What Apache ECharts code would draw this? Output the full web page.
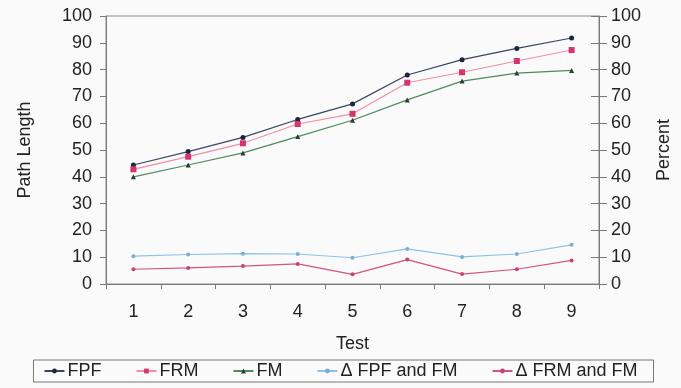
<!DOCTYPE html>
<html><head><meta charset="utf-8">
<script src="https://cdn.jsdelivr.net/npm/echarts@6/dist/echarts.min.js"></script>
<style>html,body{margin:0;padding:0;background:#fafafa}#c{width:681px;height:388px}</style>
</head><body><div id="c"></div>
<script>
var categories = ['1','2','3','4','5','6','7','8','9'];
var fpf = [44.4, 49.4, 54.7, 61.4, 67.2, 78.0, 83.7, 87.9, 91.8];
var frm = [42.8, 47.5, 52.5, 59.7, 63.5, 75.1, 79.0, 83.2, 87.3];
var fm = [40.0, 44.4, 48.9, 55.0, 61.1, 68.7, 75.7, 78.7, 79.7];
var dFpfFm = [10.4, 11.0, 11.3, 11.2, 9.8, 13.1, 10.1, 11.2, 14.6];
var dFrmFm = [5.5, 6.0, 6.7, 7.5, 3.6, 9.1, 3.7, 5.5, 8.8];
var yTicks = [0,10,20,30,40,50,60,70,80,90,100];

var chart = echarts.init(document.getElementById('c'), null, {renderer:'canvas'});
var font = 'Liberation Sans, Arial, sans-serif';
var axisGray = '#7a7a7a';
var fs = 18;
function ser(name, data, lineColor, symColor, symbol, size, yIdx){
  return {name:name, type:'line', data:data, yAxisIndex:yIdx, symbol:symbol, symbolSize:size,
    showSymbol:true, animation:false,
    lineStyle:{color:lineColor, width:1.2}, itemStyle:{color:symColor, borderWidth:0}};
}
chart.setOption({
  backgroundColor:'#fafafa',
  animation:false,
  grid:{left:106, right:80, top:16, bottom:104, show:true, borderColor:'#8a8a8a', borderWidth:1, backgroundColor:'transparent'},
  legend:{
    left:'center', top:360, itemWidth:20, itemHeight:6, itemGap:34,
    borderColor:'#777', borderWidth:1, padding:[2,16,2,10],
    textStyle:{fontFamily:font, fontSize:fs, color:'#222', padding:[0,0,0,-2]},
    data:['FPF','FRM','FM','Δ FPF and FM','Δ FRM and FM']
  },
  xAxis:{
    type:'category', data:categories, boundaryGap:true,
    name:'Test', nameLocation:'middle', nameGap:51,
    nameTextStyle:{fontFamily:font, fontSize:fs, color:'#222'},
    axisLine:{show:true, lineStyle:{color:axisGray}},
    axisTick:{show:true, length:5, lineStyle:{color:axisGray}},
    axisLabel:{fontFamily:font, fontSize:fs, color:'#222', margin:19},
    splitLine:{show:false}
  },
  yAxis:[
    {type:'value', min:0, max:100, interval:10, position:'left',
     name:'Path Length', nameLocation:'middle', nameGap:72, nameRotate:90,
     nameTextStyle:{fontFamily:font, fontSize:fs, color:'#222'},
     axisLine:{show:true, lineStyle:{color:axisGray}},
     axisTick:{show:true, length:6, lineStyle:{color:axisGray}},
     axisLabel:{fontFamily:font, fontSize:fs, color:'#222', margin:14,
       formatter:function(v){return yTicks.indexOf(v)>=0?String(v):'';}},
     splitLine:{show:false}},
    {type:'value', min:0, max:100, interval:10, position:'right',
     name:'Percent', nameLocation:'middle', nameGap:56, nameRotate:90,
     nameTextStyle:{fontFamily:font, fontSize:fs, color:'#222'},
     axisLine:{show:true, lineStyle:{color:axisGray}},
     axisTick:{show:true, length:8, lineStyle:{color:axisGray}},
     axisLabel:{fontFamily:font, fontSize:fs, color:'#222', margin:12,
       formatter:function(v){return yTicks.indexOf(v)>=0?String(v):'';}},
     splitLine:{show:false}},
    {type:'value', min:0, max:100, interval:10, position:'right',
     axisLine:{show:false}, axisLabel:{show:false}, splitLine:{show:false},
     axisTick:{show:true, inside:true, length:8, lineStyle:{color:axisGray}}}
  ],
  series:[
    ser('FPF', fpf, '#3b4562', '#1c2440', 'circle', 5, 0),
    ser('FRM', frm, '#f28ea4', '#d8336b', 'rect', 6, 0),
    ser('FM', fm, '#4f8a5c', '#283f30', 'triangle', 5, 0),
    ser('Δ FPF and FM', dFpfFm, '#8ec3e6', '#7aaed4', 'circle', 4, 1),
    ser('Δ FRM and FM', dFrmFm, '#d4547c', '#c44470', 'circle', 4, 1)
  ]
});
</script></body></html>
